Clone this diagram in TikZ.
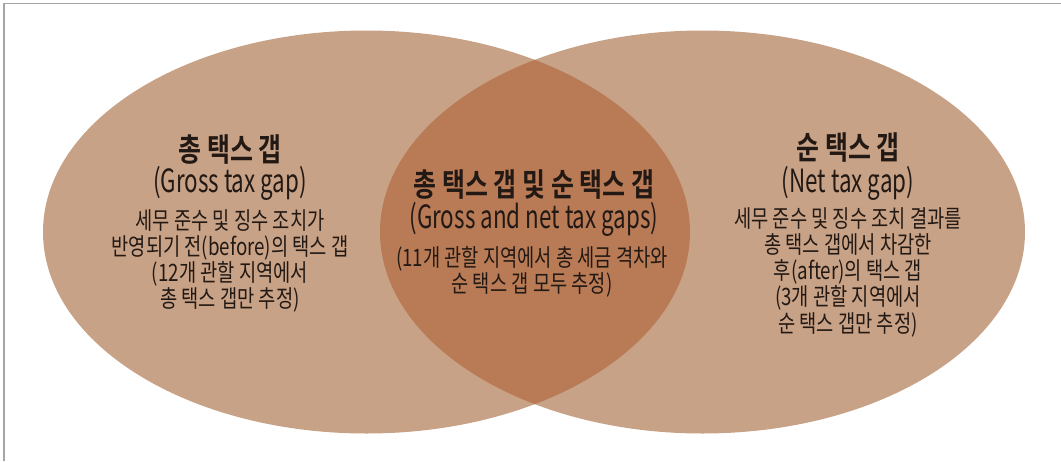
\documentclass[tikz,border=0pt]{standalone}
\usepackage{fontspec}
\newfontfamily\kr[FakeStretch=0.78,BoldFont={* Bold}]{Noto Sans CJK KR}
\newfontfamily\krsub[FakeStretch=0.70]{Noto Sans CJK KR}
\definecolor{outerfill}{RGB}{200,162,134}
\definecolor{lensfill}{RGB}{185,123,86}
\definecolor{txt}{RGB}{35,25,20}
\definecolor{framec}{RGB}{165,165,165}
\tikzset{
  title/.style={font=\kr\bfseries\fontsize{24}{27}\selectfont, text=txt, inner sep=0pt, align=center},
  sub/.style={font=\krsub\fontsize{24}{27}\selectfont, text=txt, inner sep=0pt, align=center},
  body/.style={font=\kr\fontsize{18}{19.7}\selectfont, text=txt, inner sep=0pt, align=center},
}
\begin{document}
\begin{tikzpicture}[x=0.75pt,y=-0.75pt]
\useasboundingbox (0,0) rectangle (1061,461);
\fill[white] (0,0) rectangle (1061,461);
\draw[framec, line width=1.2pt] (4,461) -- (4,3.5) -- (1061,3.5);
% ellipses
\fill[outerfill] (366.5,232) ellipse [x radius=323.5, y radius=201.5];
\fill[outerfill] (702.5,232) ellipse [x radius=322.5, y radius=201.5];
\begin{scope}
  \clip (366.5,232) ellipse [x radius=323.5, y radius=201.5];
  \fill[lensfill] (702.5,232) ellipse [x radius=322.5, y radius=201.5];
\end{scope}
% left
\node[title] (lt) at (230,150) {총 택스 갭};
\node[sub] (ls) at (230,183) {(Gross tax gap)};
\node[body] (lb) at (230,261) {세무 준수 및 징수 조치가\\반영되기 전(before)의 택스 갭\\(12개 관할 지역에서\\총 택스 갭만 추정)};
% center
\node[title] (ct) at (534,185) {총 택스 갭 및 순 택스 갭};
\node[sub] (cs) at (534,219) {(Gross and net tax gaps)};
\node[body] (cb) at (532,272) {(11개 관할 지역에서 총 세금 격차와\\순 택스 갭 모두 추정)};
% right
\node[title] (rt) at (848,148) {순 택스 갭};
\node[sub] (rs) at (848,183) {(Net tax gap)};
\node[body] (rb) at (848,272) {세무 준수 및 징수 조치 결과를\\총 택스 갭에서 차감한\\후(after)의 택스 갭\\(3개 관할 지역에서\\순 택스 갭만 추정)};
\end{tikzpicture}
\end{document}
